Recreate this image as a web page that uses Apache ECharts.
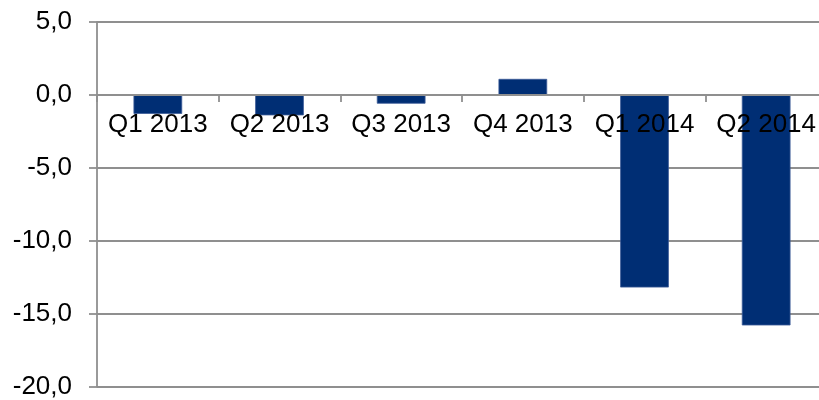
<!DOCTYPE html>
<html>
<head>
<meta charset="utf-8">
<script src="https://cdn.jsdelivr.net/npm/echarts@6/dist/echarts.min.js"></script>
<style>html,body{margin:0;padding:0;background:#fff}#c{width:819px;height:400px}</style>
</head>
<body>
<div id="c"></div>
<script>
var categories = ['Q1 2013', 'Q2 2013', 'Q3 2013', 'Q4 2013', 'Q1 2014', 'Q2 2014'];
var values = [-1.3, -1.4, -0.6, 1.1, -13.2, -15.8];
var yMin = -20, yMax = 5, yStep = 5;

var gridTop = 22, gridBottom = 13.3, H = 400;
var plotH = H - gridTop - gridBottom;
var zeroFromBottom = (0 - yMin) / (yMax - yMin) * plotH;

var chart = echarts.init(document.getElementById('c'), null, {renderer: 'canvas'});
var gridColor = '#8f8f8f';
chart.setOption({
  animation: false,
  backgroundColor: '#ffffff',
  grid: {left: 97, right: -8, top: gridTop, bottom: gridBottom, containLabel: false, outerBoundsMode: 'none'},
  xAxis: {
    type: 'category',
    data: categories,
    z: 10,
    position: 'bottom',
    offset: -zeroFromBottom,
    axisLine: {onZero: false, lineStyle: {color: gridColor, width: 1.8}},
    axisTick: {show: true, length: 7, lineStyle: {color: gridColor, width: 1.8}},
    axisLabel: {color: '#000', fontFamily: 'Liberation Sans, Arial, sans-serif', fontSize: 26, margin: 17, interval: 0}
  },
  yAxis: {
    type: 'value',
    min: yMin, max: yMax, interval: yStep,
    axisLine: {show: true, lineStyle: {color: gridColor, width: 1.8}},
    axisTick: {show: true, length: 8, lineStyle: {color: gridColor, width: 1.8}},
    splitLine: {show: true, lineStyle: {color: gridColor, width: 1.8}},
    axisLabel: {
      color: '#000', fontFamily: 'Liberation Sans, Arial, sans-serif', fontSize: 26, margin: 25,
      formatter: function (v) { return v.toFixed(1).replace('.', ','); }
    }
  },
  series: [{
    type: 'bar',
    data: values,
    barWidth: '40%',
    itemStyle: {color: '#002e74', borderColor: '#3b5b97', borderWidth: 0.8}
  }]
});
</script>
</body>
</html>
